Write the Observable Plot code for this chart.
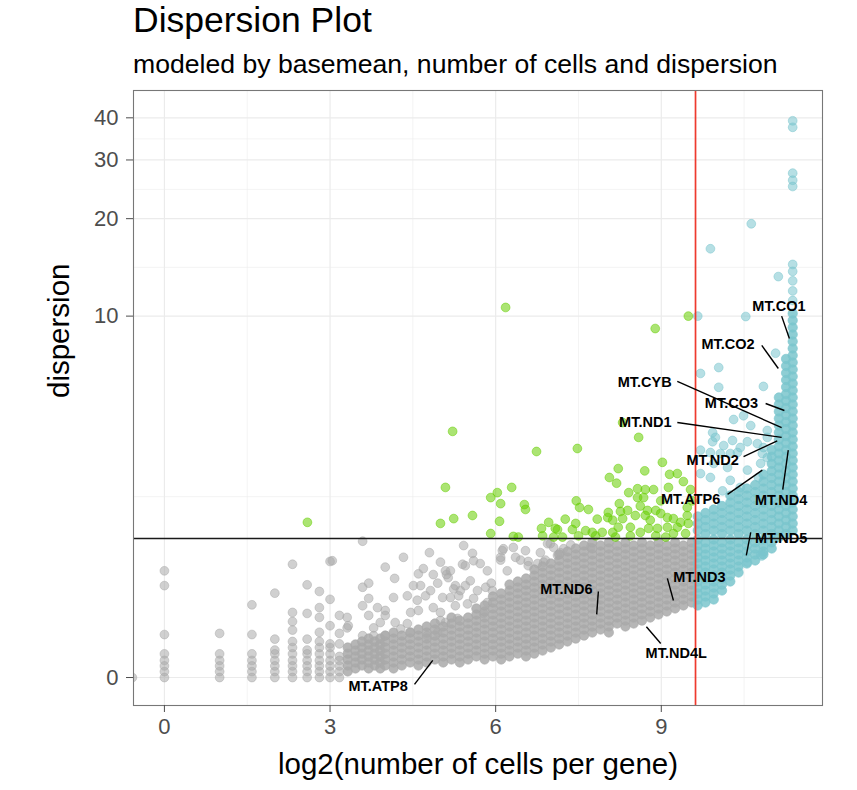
<!DOCTYPE html>
<html><head><meta charset="utf-8">
<script src="https://cdn.jsdelivr.net/npm/d3@7"></script>
<script src="https://cdn.jsdelivr.net/npm/@observablehq/plot@0.6"></script>
<style>
html,body{margin:0;padding:0;background:#fff;overflow:hidden;}
body{font-family:"Liberation Sans",Arial,Helvetica,sans-serif;}
#wrap{position:relative;width:857px;height:790px;}
#head{position:relative;height:88px;}
#title{position:absolute;left:133px;top:3px;font-size:35.5px;line-height:35.5px;color:#000;white-space:nowrap;}
#subtitle{position:absolute;left:133px;top:51px;font-size:26.6px;line-height:26.6px;color:#000;white-space:nowrap;}
#chart svg{display:block;}
</style></head>
<body>
<div id="wrap">
  <div id="head">
    <div id="title">Dispersion Plot</div>
    <div id="subtitle">modeled by basemean, number of cells and dispersion</div>
  </div>
  <div id="chart"></div>
</div>
<script>
// ---- axis ticks / thresholds ----
const xTicks = [0, 3, 6, 9];
const yTicks = [0, 10, 20, 30, 40];
const xMinorTicks = [1.5, 4.5, 7.5, 10.5];
const yMinorTicks = [2.32, 14.2, 24.5, 34.65];
const cellsThreshold = 9.62;
const dispersionThreshold = 1.515;

// ---- grey genes (below dispersion threshold), columns [log2 cells, [dispersions]] ----
const greyLowColumns = [
  [-0.58, [0]],
  [0, [0, 0.04, 0.08, 0.12, 0.17, 0.33, 0.84, 1.03]],
  [1, [0, 0.04, 0.08, 0.12, 0.17, 0.34]],
  [1.585, [0, 0.04, 0.08, 0.12, 0.17, 0.33, 0.62]],
  [2, [0, 0.04, 0.08, 0.12, 0.17, 0.2, 0.29, 0.75]],
  [2.32, [0, 0.04, 0.08, 0.12, 0.17, 0.22, 0.27, 0.37, 0.45, 0.54, 1.12]],
  [2.585, [0, 0.04, 0.08, 0.12, 0.17, 0.2, 0.29, 0.53, 0.85]],
  [2.807, [0, 0.04, 0.08, 0.12, 0.17, 0.22, 0.27, 0.35, 0.49, 0.59, 0.77]],
  [3.0, [0, 0.04, 0.08, 0.12, 0.17, 0.22, 0.25, 0.41, 0.68, 1.16]],
  [3.17, [0, 0.04, 0.08, 0.12, 0.15, 0.25, 0.34, 0.51]]
];
const greyDenseColumns = [
  [3.32, [.041,.083,.127,.172,.22]],
  [3.46, [.062,.105,.15,.196,.245]],
  [3.58, [.083,.127,.172,.22,.27]],
  [3.70, [.062,.105,.15,.196,.245,.295]],
  [3.81, [.083,.127,.172,.22,.27]],
  [3.91, [.062,.105,.15,.196,.245,.295]],
  [4.00, [.083,.127,.172,.22,.27,.321]],
  [4.15, [.062,.105,.15,.196,.245,.295,.348]],
  [4.30, [.083,.127,.172,.22,.27,.321]],
  [4.45, [.105,.15,.196,.245,.295,.348]],
  [4.60, [.083,.127,.172,.22,.27,.321,.375]],
  [4.75, [.105,.15,.196,.245,.295,.348,.403]],
  [4.90, [.127,.172,.22,.27,.321,.375,.431]],
  [5.05, [.105,.15,.196,.245,.295,.348,.403]],
  [5.20, [.127,.172,.22,.27,.321,.375,.431,.489]],
  [5.35, [.105,.15,.196,.245,.295,.348,.403,.459]],
  [5.50, [.127,.172,.22,.27,.321,.375,.431,.489]],
  [5.65, [.15,.196,.245,.295,.348,.403,.459,.519,.581]],
  [5.80, [.127,.172,.22,.27,.321,.375,.431,.489,.55,.613]],
  [5.95, [.15,.196,.245,.295,.348,.403,.459,.519,.581,.645,.712]],
  [6.10, [.127,.172,.22,.27,.321,.375,.431,.489,.55,.613,.678,.747]],
  [6.25, [.15,.196,.245,.295,.348,.403,.459,.519,.581,.645,.712,.781,.853]],
  [6.40, [.172,.22,.27,.321,.375,.431,.489,.55,.613,.678,.747,.817,.891]],
  [6.55, [.15,.196,.245,.295,.348,.403,.459,.519,.581,.645,.712,.781,.853,.929]],
  [6.70, [.172,.22,.27,.321,.375,.431,.489,.55,.613,.678,.747,.817,.891,.968,1.048]],
  [6.85, [.196,.245,.295,.348,.403,.459,.519,.581,.645,.712,.781,.853,.929,1.007,1.089]],
  [7.00, [.22,.27,.321,.375,.431,.489,.55,.613,.678,.747,.817,.891,.968,1.048,1.131]],
  [7.15, [.245,.295,.348,.403,.459,.519,.581,.645,.712,.781,.853,.929,1.007,1.089,1.174,1.263]],
  [7.30, [.27,.321,.375,.431,.489,.55,.613,.678,.747,.817,.891,.968,1.048,1.131,1.218,1.308]],
  [7.45, [.295,.348,.403,.459,.519,.581,.645,.712,.781,.853,.929,1.007,1.089,1.174,1.263,1.354]],
  [7.60, [.321,.375,.431,.489,.55,.613,.678,.747,.817,.891,.968,1.048,1.131,1.218,1.308,1.401]],
  [7.75, [.348,.403,.459,.519,.581,.645,.712,.781,.853,.929,1.007,1.089,1.174,1.263,1.354,1.452]],
  [7.90, [.375,.431,.489,.55,.613,.678,.747,.817,.891,.968,1.048,1.131,1.218,1.308,1.401]],
  [8.05, [.348,.403,.459,.519,.581,.645,.712,.781,.853,.929,1.007,1.089,1.174,1.263,1.354,1.452]],
  [8.20, [.431,.489,.55,.613,.678,.747,.817,.891,.968,1.048,1.131,1.218,1.308,1.401]],
  [8.35, [.403,.459,.519,.581,.645,.712,.781,.853,.929,1.007,1.089,1.174,1.263,1.354,1.452]],
  [8.50, [.431,.489,.55,.613,.678,.747,.817,.891,.968,1.048,1.131,1.218,1.308,1.401]],
  [8.65, [.459,.519,.581,.645,.712,.781,.853,.929,1.007,1.089,1.174,1.263,1.354,1.452]],
  [8.80, [.489,.55,.613,.678,.747,.817,.891,.968,1.048,1.131,1.218,1.308,1.401]],
  [8.95, [.519,.581,.645,.712,.781,.853,.929,1.007,1.089,1.174,1.263,1.354,1.452]],
  [9.10, [.55,.613,.678,.747,.817,.891,.968,1.048,1.131,1.218,1.308,1.401]],
  [9.25, [.581,.645,.712,.781,.853,.929,1.007,1.089,1.174,1.263,1.354,1.452]],
  [9.40, [.613,.678,.747,.817,.891,.968,1.048,1.131,1.218,1.308,1.401]],
  [9.55, [.645,.712,.781,.853,.929,1.007,1.089,1.174,1.263,1.354,1.452]]
];
const greyScatter = [
  [3.59,1.47],[4.33,1.22],[4.00,1.08],[4.80,1.29],[5.00,1.15],[5.42,1.40],[5.58,1.28],[5.18,1.03],
  [4.17,0.93],[3.70,0.87],[3.59,0.82],[4.60,0.99],[4.69,1.06],[5.14,0.94],[4.95,0.87],[4.51,0.84],
  [4.40,0.72],[4.15,0.70],[3.70,0.69],[3.86,0.59],[4.00,0.51],[3.59,0.61],[3.31,0.49],[3.31,0.39],
  [4.58,0.67],[4.73,0.72],[4.87,0.59],[5.18,0.70],[5.27,0.61],[5.00,0.46],[4.40,0.43],[3.79,0.39],
  [5.54,0.90],[5.72,1.13],[5.85,1.03],[6.14,1.35],[6.32,1.37],[6.54,1.32],[6.21,1.03],[5.94,0.78],
  [5.36,0.78],[5.60,0.69],[6.59,1.10],[6.76,1.13],[7.05,1.37],[6.81,1.29],[7.17,1.29],[6.99,1.43],
  [7.36,1.41],[7.72,1.37],[6.45,1.18],[6.90,1.18],[6.09,1.18],[5.82,0.82],[5.45,1.10],[5.27,0.84],
  [3.04,1.17],[5.60,1.17],[4.87,0.98],[5.09,1.03],[5.11,0.98],[5.40,1.12],[6.09,1.22],[6.12,1.32],
  [6.36,1.22],[6.59,1.16],[5.92,0.87],[5.45,0.84],[5.24,0.80],[4.64,0.84],[4.82,0.78],[3.70,0.51],
  [4.00,0.56],[4.46,0.54],[4.60,0.56],[5.04,0.70],[5.33,0.72],[5.49,0.63],[5.67,0.78],[4.18,0.44],
  [3.91,0.44],[3.33,0.41],[3.59,0.32],[3.79,0.32],[4.00,0.32],[4.28,0.38],[4.46,0.35],[4.76,0.32],
  [4.95,0.35],[5.09,0.44],[5.31,0.48],[5.00,0.54],[5.78,0.53],[5.85,0.645],[6.87,1.15],[7.12,1.25],
  [7.23,1.35],[6.94,1.43]
];

// ---- green genes (high dispersion, fewer cells) ----
const greenPoints = [
  [6.18,10.65],[5.22,4.12],[6.74,3.48],[7.48,3.57],[5.09,2.53],[6.29,2.53],[6.03,2.41],[5.91,2.30],
  [6.09,2.17],[6.52,2.15],[6.54,2.05],[5.58,1.93],[5.24,1.87],[5.00,1.78],[6.07,1.82],[5.91,1.60],
  [2.59,1.80],[6.32,1.55],[6.41,1.54],[6.96,1.80],[6.83,1.69],[7.12,1.67],[7.26,1.86],[7.39,1.67],
  [7.46,2.23],[7.52,2.09],[7.45,1.78],[6.85,1.56],[7.05,1.54],[7.21,1.54],[7.68,2.05],[7.63,1.65],
  [7.75,1.62],[7.84,1.86],[7.50,1.56],[8.59,3.92],[9.02,3.17],[8.22,3.00],[8.70,2.94],[8.06,2.77],
  [9.15,2.85],[8.19,2.63],[9.40,2.67],[9.13,2.53],[8.57,2.50],[8.41,2.41],[8.71,2.48],[8.86,2.48],
  [8.57,2.30],[8.68,2.30],[8.24,2.17],[8.26,2.01],[8.39,2.03],[8.53,1.93],[8.04,1.99],[8.03,1.89],
  [8.12,1.84],[8.30,1.87],[8.22,1.71],[8.44,1.71],[8.75,2.03],[8.71,1.93],[8.80,1.84],[8.90,2.03],
  [8.99,1.97],[9.11,1.89],[9.22,1.87],[9.35,1.80],[9.47,1.93],[9.49,1.78],[9.29,1.71],[9.11,1.71],
  [8.93,1.69],[8.77,1.69],[8.62,1.62],[8.12,1.62],[7.93,1.62],[9.47,2.09],[9.56,2.23],[9.22,1.60],
  [9.44,1.60],[8.44,1.56],[8.90,1.56],[9.49,10.0],[8.89,9.13],[8.30,4.43],[7.08,1.69],[9.29,2.87],
  [9.08,1.54],[8.17,1.54],[7.81,1.56],[8.62,2.12],[8.99,2.23],[9.53,2.48]
];

// ---- blue genes (many cells) ----
const blueColumns = [
  [9.66, [.613,.678,.747,.817,.891,.968,1.048,1.131,1.218,1.308,1.401,1.499,1.653,1.778,1.911]],
  [9.80, [.645,.712,.781,.853,.929,1.007,1.089,1.174,1.263,1.354,1.452,1.593,1.716,1.844,1.979]],
  [9.95, [.678,.747,.817,.891,.968,1.048,1.131,1.218,1.308,1.401,1.499,1.653,1.778,1.911,2.05]],
  [10.10, [.781,.853,.929,1.007,1.089,1.174,1.263,1.354,1.452,1.593,1.716,1.844,1.979,2.121]],
  [10.25, [.891,.968,1.048,1.131,1.218,1.308,1.401,1.499,1.653,1.778,1.911,2.05,2.194,2.345]],
  [10.40, [1.007,1.089,1.174,1.263,1.354,1.452,1.593,1.716,1.844,1.979,2.121,2.269,2.424]],
  [10.55, [1.131,1.218,1.308,1.401,1.499,1.653,1.778,1.911,2.05,2.194,2.345,2.504]],
  [10.70, [1.174,1.263,1.354,1.452,1.593,1.716,1.844,1.979,2.121,2.269,2.424,2.587]],
  [10.85, [1.263,1.308,1.401,1.499,1.653,1.778,1.911,2.05,2.194,2.345,2.504,2.671,2.846]],
  [11.00, [1.354,1.452,1.593,1.716,1.844,1.979,2.121,2.269,2.424,2.587,2.758,2.937,3.13,3.33,3.53]],
  [11.13, [1.535,1.653,1.778,1.911,2.05,2.194,2.345,2.504,2.671,2.846,3.03,3.221,3.422,3.632,3.852,4.083,4.324,4.578,4.843,5.121,5.411]],
  [11.26, [1.593,1.716,1.844,1.979,2.121,2.269,2.424,2.587,2.758,2.937,3.13,3.33,3.53,3.74,3.96,4.2,4.45,4.71,4.98,5.27,5.56,5.87,6.2,6.54,6.9,7.28]],
  [11.38, [1.653,1.778,1.911,2.05,2.194,2.345,2.504,2.671,2.846,3.03,3.221,3.422,3.632,3.852,4.083,4.324,4.578,4.843,5.121,5.411,5.716,6.035,6.37,6.72,7.087,7.472,7.875,8.297,8.739,9.2,9.69,10.19]]
];
const blueScatter = [
  [11.38,11.2],[11.38,12.0],[11.38,12.9],[11.38,13.8],[11.38,14.5],[11.38,25.0],[11.38,26.1],[11.38,27.4],[11.38,37.5],[11.38,39.2],
  [9.66,10.0],[10.53,9.97],[9.89,16.2],[10.63,19.3],[11.12,13.3],[11.07,7.6],[10.04,6.82],[9.71,6.52],
  [10.85,5.90],[10.04,5.86],[10.31,4.54],[10.62,4.32],[10.49,4.68],[9.93,4.08],[9.98,3.92],[10.13,3.66],
  [10.29,3.82],[10.43,3.60],[10.74,3.72],[10.92,4.15],[10.92,3.92],[9.89,3.45],[10.25,3.42],[10.83,3.42],
  [9.71,3.52],[10.07,3.42],[10.38,3.45],[9.95,3.14],[9.71,2.87],[9.89,2.77],[10.20,3.03],[10.25,2.70],
  [10.56,2.96],[10.80,3.14],[10.92,3.30],[10.76,2.77],[10.56,3.78],[10.85,3.60],[9.93,3.78],[10.43,2.53],
  [10.11,2.45],[10.82,1.24],[10.56,1.15],[10.80,1.26]
];

// ---- labelled genes ----
const labelGenes = ["MT.CO1","MT.CO2","MT.CYB","MT.CO3","MT.ND1","MT.ND2","MT.ATP6","MT.ND4","MT.ND5","MT.ND3","MT.ND6","MT.ND4L","MT.ATP8"];
const labelX = [11.13, 10.21, 8.70, 10.27, 8.71, 9.93, 9.53, 11.17, 11.17, 9.69, 7.28, 9.27, 3.87];
const labelY = [10.77, 8.11, 6.08, 5.16, 4.43, 3.22, 2.27, 2.23, 1.51, 0.948, 0.80, 0.177, -0.062];
const segX1 = [11.18, 10.82, 9.29, 10.89, 9.29, 10.49, 10.20, 11.20, 10.62, 9.11, 7.86, 8.73, 4.53];
const segY1 = [10.0, 8.06, 6.13, 5.16, 4.43, 3.33, 2.37, 2.48, 1.62, 0.93, 0.77, 0.40, -0.047];
const segX2 = [11.32, 11.12, 11.18, 11.23, 11.18, 11.10, 10.83, 11.30, 10.54, 9.22, 7.83, 8.99, 4.86];
const segY2 = [8.48, 6.77, 4.25, 4.88, 3.92, 3.81, 2.96, 3.52, 1.25, 0.667, 0.52, 0.253, 0.12];

// ---- build tables ----
const toRows = (cols) => cols.flatMap(([x, ys]) => ys.map(y => ({x, y})));
const toPts = (pts) => pts.map(([x, y]) => ({x, y}));
const greyCore = toRows(greyDenseColumns);
const greyLoose = [...toRows(greyLowColumns), ...toPts(greyScatter)];
const greenRows = toPts(greenPoints);
const blueCore = toRows(blueColumns);
const blueLoose = toPts(blueScatter);
const labels = labelGenes.map((gene, i) => ({gene, lx: labelX[i], ly: labelY[i], x1: segX1[i], y1: segY1[i], x2: segX2[i], y2: segY2[i]}));

const GREY = "#A9A9A9", GREEN = "#66CD00", BLUE = "#7AC5CD";
const loose = (c) => ({x: "x", y: "y", r: 4.4, fill: c, fillOpacity: 0.55, stroke: c, strokeOpacity: 0.5, strokeWidth: 1, clip: true});
const core = (c) => ({x: "x", y: "y", r: 4.7, fill: c, fillOpacity: 0.85, stroke: c, strokeOpacity: 0.6, strokeWidth: 1, clip: true});

const chart = Plot.plot({
  width: 857, height: 702,
  marginLeft: 133, marginRight: 35, marginTop: 2, marginBottom: 85,
  style: {fontFamily: "Liberation Sans, Arial, Helvetica, sans-serif", background: "#fff", overflow: "visible"},
  x: {domain: [-0.56, 11.92]},
  y: {type: "symlog", constant: 1, domain: [-0.204, 48.15]},
  marks: [
    Plot.ruleX(xMinorTicks, {stroke: "#EBEBEB", strokeWidth: 0.6}),
    Plot.ruleY(yMinorTicks, {stroke: "#EBEBEB", strokeWidth: 0.6}),
    Plot.ruleX(xTicks, {stroke: "#EBEBEB", strokeWidth: 1.2}),
    Plot.ruleY(yTicks, {stroke: "#EBEBEB", strokeWidth: 1.2}),
    Plot.dot(greyLoose, loose(GREY)),
    Plot.dot(greyCore, core(GREY)),
    Plot.dot(greenRows, loose(GREEN)),
    Plot.dot(blueCore, core(BLUE)),
    Plot.dot(blueLoose, loose(BLUE)),
    Plot.ruleY([dispersionThreshold], {stroke: "#1a1a1a", strokeWidth: 1.6}),
    Plot.ruleX([cellsThreshold], {stroke: "#EE3A2E", strokeWidth: 1.7}),
    Plot.link(labels, {x1: "x1", y1: "y1", x2: "x2", y2: "y2", stroke: "#000", strokeWidth: 1.4}),
    Plot.text(labels, {x: "lx", y: "ly", text: "gene", fontWeight: "bold", fontSize: 14.5, fill: "#000"}),
    Plot.frame({stroke: "#777", strokeWidth: 1.1}),
    Plot.axisX({ticks: xTicks, tickSize: 7, tickPadding: 6, fontSize: 22, label: null, color: "#4D4D4D", tickFormat: d => String(d)}),
    Plot.axisY({ticks: yTicks, tickSize: 7, tickPadding: 8, fontSize: 22, label: null, color: "#4D4D4D", tickFormat: d => String(d)}),
    Plot.text(["log2(number of cells per gene)"], {frameAnchor: "bottom", dy: 59, fontSize: 29.5, lineAnchor: "middle", fill: "#000"}),
    Plot.text(["dispersion"], {frameAnchor: "left", dx: -74, rotate: -90, fontSize: 29.5, lineAnchor: "middle", fill: "#000"})
  ]
});
document.getElementById("chart").appendChild(chart);
</script>
</body></html>
